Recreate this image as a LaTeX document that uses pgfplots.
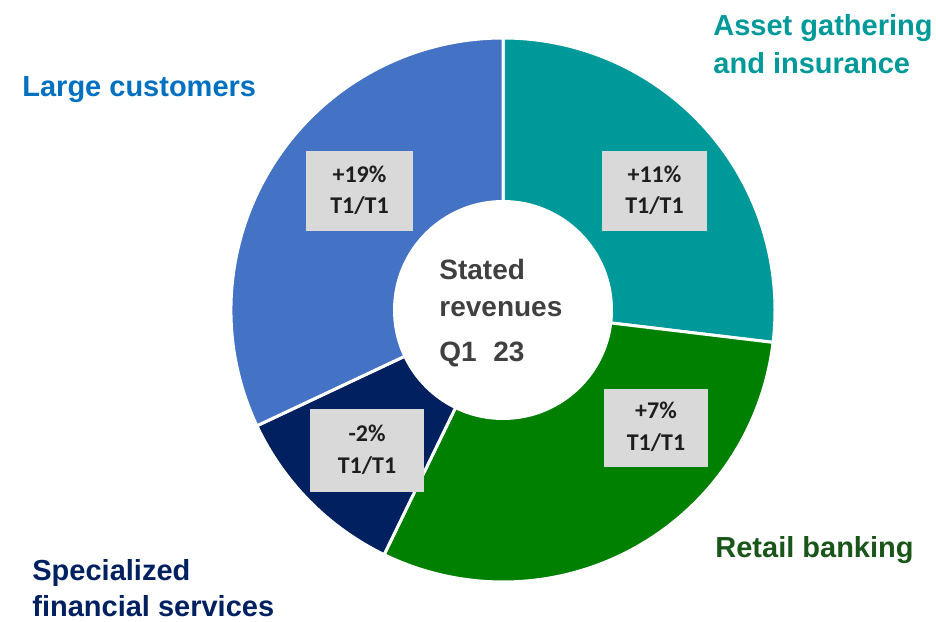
\documentclass[border=0pt]{standalone}
\usepackage{fontspec}
\setmainfont{Liberation Sans}
\newfontfamily\boxfont{Carlito}
\usepackage{pgfplots}
\usepackage{pgfplotstable}
\pgfplotsset{compat=1.18}

\definecolor{cTeal}{RGB}{0,153,153}
\definecolor{cGreen}{RGB}{0,128,0}
\definecolor{cNavy}{RGB}{0,32,96}
\definecolor{cBlue}{RGB}{68,114,196}
\definecolor{tLarge}{RGB}{0,112,192}
\definecolor{tAsset}{RGB}{0,153,153}
\definecolor{tRetail}{RGB}{26,86,26}
\definecolor{tSpec}{RGB}{0,32,96}
\definecolor{tCenter}{RGB}{64,64,64}
\definecolor{boxgray}{RGB}{217,217,217}
\definecolor{boxtext}{RGB}{30,30,30}

\tikzset{
  lbl/.style={anchor=base west, inner sep=0, font=\fontsize{14.5}{17}\selectfont\bfseries},
  ctr/.style={anchor=base west, inner sep=0, text=tCenter, font=\fontsize{14}{17}\selectfont\bfseries},
  bxt/.style={anchor=base, inner sep=0, text=boxtext, font=\boxfont\fontsize{12}{14}\selectfont\bfseries},
}

% share of revenues (%), clockwise from 12 o'clock
\pgfplotstableread{
share col
26.9 cTeal
30.3 cGreen
10.8 cNavy
32.0 cBlue
}\slices

\begin{document}
\begin{tikzpicture}
\begin{axis}[
  hide axis, scale only axis,
  width=468pt, height=310.5pt,
  xmin=0, xmax=936, ymin=0, ymax=621,
  clip=false,
]
\addplot[draw=none] coordinates {(0,0) (936,621)};
\path (axis cs:0,0) rectangle (axis cs:936,621);

\def\startA{90}
\pgfplotsforeachungrouped \i in {0,...,3}{%
  \pgfplotstablegetelem{\i}{share}\of\slices \let\sliceVal\pgfplotsretval
  \pgfplotstablegetelem{\i}{col}\of\slices \let\sliceCol\pgfplotsretval
  \pgfmathsetmacro\endA{\startA-3.6*\sliceVal}%
  \edef\temp{\noexpand\filldraw[fill=\sliceCol, draw=white, line width=1.5pt, line join=round]
    (axis cs:503,311) -- ++(\startA:136pt) arc[start angle=\startA, end angle=\endA, radius=136pt] -- cycle;}%
  \temp
  \global\let\startA\endA
}
\fill[white] (axis cs:503,311) circle[radius=55pt];

% centre text
\node[ctr] at (axis cs:439,341) {Stated};
\node[ctr] at (axis cs:439,304) {revenues};
\node[ctr] at (axis cs:439,259) {Q1};
\node[ctr] at (axis cs:493,259) {23};

% growth boxes
\fill[boxgray] (axis cs:306,470) rectangle (axis cs:413,390);
\node[bxt] at (axis cs:359.5,438) {+19\%};
\node[bxt] at (axis cs:359.5,407) {T1/T1};
\fill[boxgray] (axis cs:602,470) rectangle (axis cs:707,390);
\node[bxt] at (axis cs:654.5,438) {+11\%};
\node[bxt] at (axis cs:654.5,407) {T1/T1};
\fill[boxgray] (axis cs:310,212) rectangle (axis cs:424,129);
\node[bxt] at (axis cs:367,179) {-2\%};
\node[bxt] at (axis cs:367,148) {T1/T1};
\fill[boxgray] (axis cs:604,232) rectangle (axis cs:708,154);
\node[bxt] at (axis cs:656,202) {+7\%};
\node[bxt] at (axis cs:656,170) {T1/T1};

% segment labels
\node[lbl, text=tLarge] at (axis cs:22,524) {Large customers};
\node[lbl, text=tAsset] at (axis cs:713,585) {Asset gathering};
\node[lbl, text=tAsset] at (axis cs:713,547) {and insurance};
\node[lbl, text=tRetail] at (axis cs:715,64) {Retail banking};
\node[lbl, text=tSpec] at (axis cs:32,41) {Specialized};
\node[lbl, text=tSpec] at (axis cs:32,5) {financial services};
\end{axis}
\end{tikzpicture}
\end{document}
